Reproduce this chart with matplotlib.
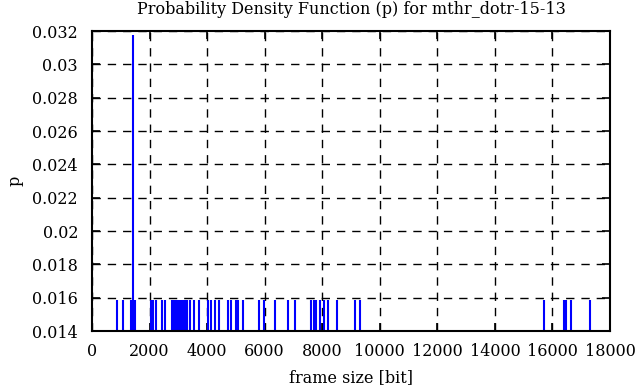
import numpy as np
import matplotlib
matplotlib.use('Agg')
import matplotlib.pyplot as plt
from matplotlib.ticker import FuncFormatter

# frame sizes [bit] and their probabilities (63 frames, one size seen twice)
frame_sizes = [869, 1077, 1350, 1425, 1500, 2050, 2120, 2225, 2430, 2540,
               2790, 2850, 2900, 2960, 3010, 3070, 3120, 3180, 3240, 3300,
               3400, 3560, 3710, 4030, 4150, 4260, 4410, 4740, 4830, 4990,
               5080, 5240, 5800, 5960, 6360, 6800, 7054, 7600, 7700, 7780,
               7910, 8070, 8190, 8510, 9140, 9300, 15720, 16400, 16470,
               16645, 17290]
counts = [1, 1, 1, 2, 1, 1, 1, 1, 1, 1,
          1, 1, 1, 1, 1, 1, 1, 1, 1, 1,
          1, 1, 1, 1, 1, 1, 1, 1, 1, 1,
          1, 1, 1, 1, 1, 1, 1, 1, 1, 1,
          1, 1, 1, 1, 1, 1, 1, 1, 1,
          1, 1]
total = 63
p = np.array(counts) / total

plt.rcParams['font.family'] = ['DejaVu Serif']

fig = plt.figure(figsize=(6.36, 3.87), dpi=100)
ax = fig.add_subplot(111)
fig.subplots_adjust(left=92/636, right=610/636, top=1-31/387, bottom=1-331/387)

ax.vlines(frame_sizes, 0, p, color='#0000ff', linewidth=1.5)

ax.set_xlim(0, 18000)
ax.set_ylim(0.014, 0.032)
ax.set_xticks(np.arange(0, 18001, 2000))
ax.set_yticks(np.arange(0.014, 0.03201, 0.002))
ax.yaxis.set_major_formatter(FuncFormatter(lambda v, pos: '%g' % round(v, 4)))
ax.tick_params(direction='in', top=True, right=True, length=6, width=1.2,
               labelsize=11.5, colors='black')
ax.tick_params(axis='x', pad=9)
ax.tick_params(axis='y', pad=10)
ax.grid(True, color='black', linestyle=(0, (6, 5)), linewidth=1)
for s in ax.spines.values():
    s.set_linewidth(1.5)

ax.set_title('Probability Density Function (p) for mthr_dotr-15-13', fontsize=11.5, pad=12)
ax.set_xlabel('frame size [bit]', fontsize=11.5, labelpad=6)
ax.set_ylabel('p', fontsize=11.5, labelpad=6)

fig.savefig('out.png', dpi=100)
